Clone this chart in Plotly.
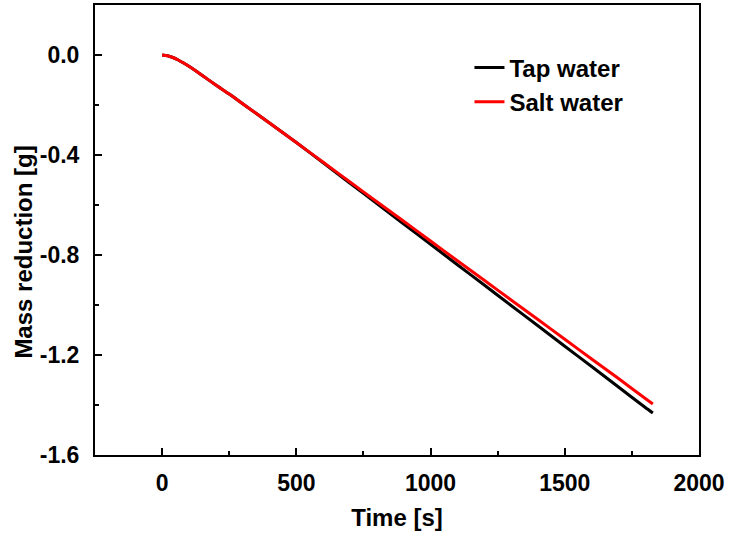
import plotly.graph_objects as go

time_s = [0, 20, 40, 60, 80, 100, 125, 150, 200, 250, 300, 400, 500, 600, 700,
          800, 900, 1000, 1100, 1200, 1300, 1400, 1500, 1600, 1700, 1800, 1828]
tap_water = [0.0, -0.003, -0.010, -0.020, -0.032, -0.045, -0.063, -0.082, -0.120,
             -0.156, -0.195, -0.272, -0.350, -0.431, -0.513, -0.594, -0.676,
             -0.757, -0.839, -0.920, -1.002, -1.083, -1.165, -1.246, -1.328,
             -1.410, -1.432]
salt_water = [0.0, -0.003, -0.010, -0.020, -0.032, -0.045, -0.063, -0.082, -0.120,
              -0.156, -0.195, -0.272, -0.350, -0.429, -0.508, -0.587, -0.665,
              -0.744, -0.823, -0.901, -0.980, -1.058, -1.137, -1.216, -1.294,
              -1.374, -1.396]

x_tickvals = [0, 500, 1000, 1500, 2000]
x_ticktext = ["0", "500", "1000", "1500", "2000"]
y_tickvals = [0.0, -0.4, -0.8, -1.2, -1.6]
y_ticktext = ["0.0", "-0.4", "-0.8", "-1.2", "-1.6"]
x_title = "Time [s]"
y_title = "Mass reduction [g]"

font_family = "Liberation Sans, Arial, sans-serif"

fig = go.Figure()
fig.add_trace(go.Scatter(x=time_s, y=tap_water, mode="lines", name="Tap water",
                         line=dict(color="black", width=3, shape="spline", smoothing=0.6)))
fig.add_trace(go.Scatter(x=time_s, y=salt_water, mode="lines", name="Salt water",
                         line=dict(color="#ff0000", width=3, shape="spline", smoothing=0.6)))

axis_common = dict(
    showline=True, linecolor="black", linewidth=2, mirror=True,
    ticks="inside", ticklen=7, tickwidth=2, tickcolor="black",
    showgrid=False, zeroline=False, automargin=False,
    tickfont=dict(family=font_family, size=23, color="black"),
)

fig.update_xaxes(
    range=[-250, 2000], tickvals=x_tickvals,
    ticktext=["<b>%s</b>" % t for t in x_ticktext],
    ticklabelstandoff=6,
    minor=dict(ticks="inside", ticklen=4, tickwidth=2, tickcolor="black", dtick=250, tick0=0),
    title=dict(text="<b>%s</b>" % x_title, font=dict(family=font_family, size=24, color="black"), standoff=15),
    **axis_common,
)
fig.update_yaxes(
    range=[-1.6, 0.2], tickvals=y_tickvals,
    ticktext=["<b>%s</b>" % t for t in y_ticktext],
    ticklabelstandoff=9,
    minor=dict(ticks="inside", ticklen=4, tickwidth=2, tickcolor="black", dtick=0.2, tick0=0),
    **axis_common,
)

fig.add_annotation(
    text="<b>%s</b>" % y_title, textangle=-90,
    xref="paper", yref="paper", x=-0.119, y=0.45,
    xanchor="center", yanchor="middle", showarrow=False,
    font=dict(family=font_family, size=24, color="black"),
)

fig.update_layout(
    width=729, height=538,
    margin=dict(l=95, r=30, t=5, b=83),
    paper_bgcolor="white", plot_bgcolor="white",
    showlegend=True,
    legend=dict(
        x=0.62, y=0.91, xanchor="left", yanchor="top",
        bgcolor="rgba(0,0,0,0)", borderwidth=0,
        font=dict(family=font_family, size=24, color="black", weight="bold"),
        tracegroupgap=0,
    ),
)

fig.write_html("out.html")
